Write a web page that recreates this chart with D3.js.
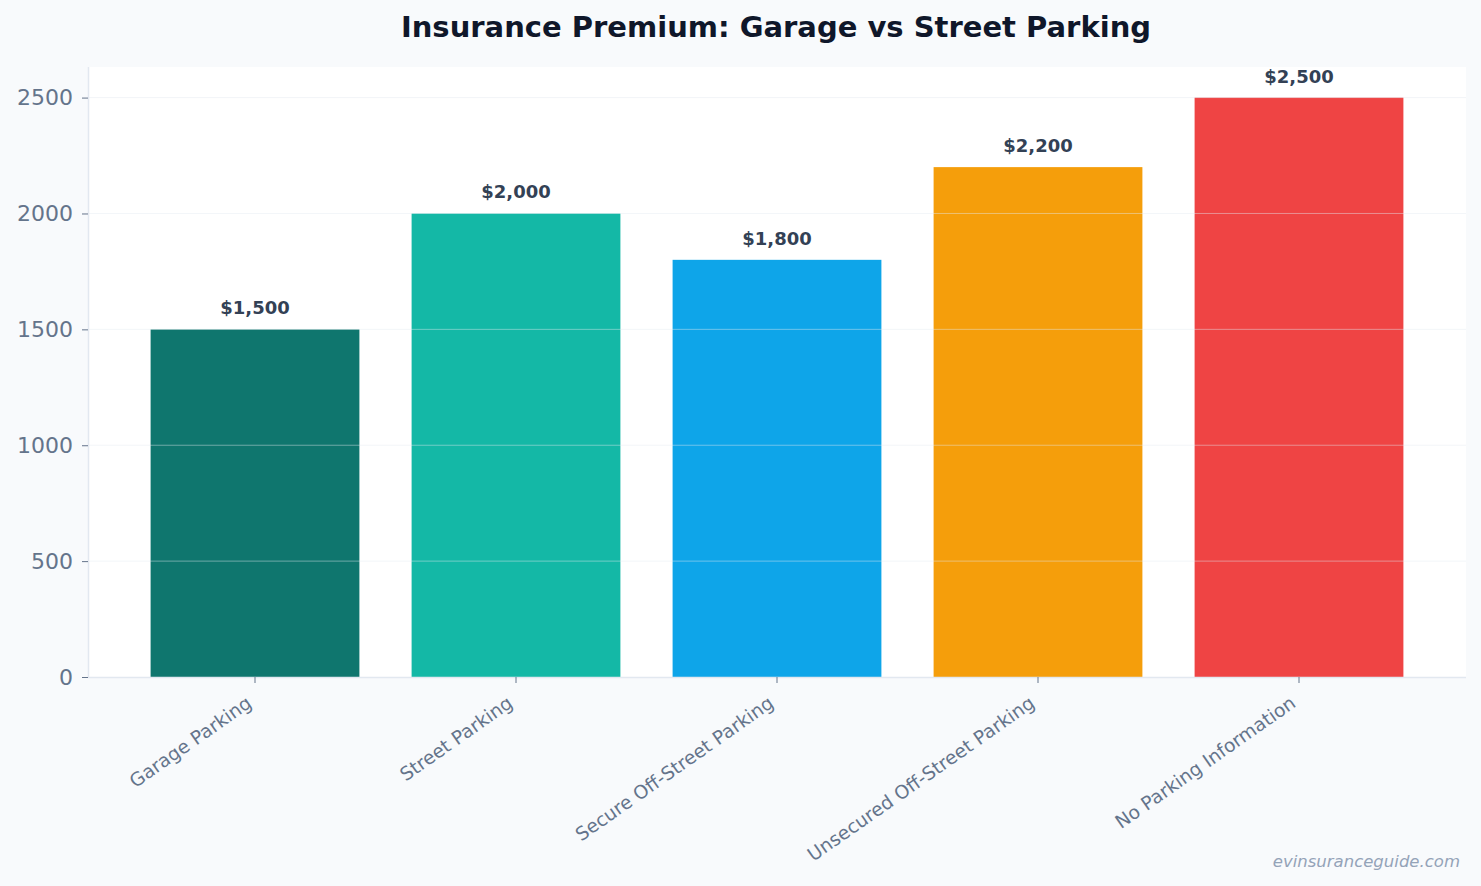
<!DOCTYPE html>
<html><head><meta charset="utf-8">
<script src="https://cdn.jsdelivr.net/npm/d3@7"></script>
<style>
html,body{margin:0;padding:0;background:#f8fafc;}
svg{display:block;font-family:"DejaVu Sans",sans-serif;}
</style></head>
<body>
<svg id="chart" width="1481" height="886"></svg>
<script>
const categories = ["Garage Parking","Street Parking","Secure Off-Street Parking","Unsecured Off-Street Parking","No Parking Information"];
const premiums = [1500, 2000, 1800, 2200, 2500];
const barColors = ["#0f766e","#14b8a6","#0ea5e9","#f59e0b","#ef4444"];
const yTicks = [0, 500, 1000, 1500, 2000, 2500];
const title = "Insurance Premium: Garage vs Street Parking";
const watermark = "evinsuranceguide.com";

const svg = d3.select("#chart");
const W = 1481, H = 886;
const plot = {left: 88, right: 1466, top: 67, bottom: 677};

svg.append("rect").attr("width", W).attr("height", H).attr("fill", "#f8fafc");
svg.append("rect").attr("x", plot.left).attr("y", plot.top)
  .attr("width", plot.right - plot.left).attr("height", plot.bottom - plot.top)
  .attr("fill", "#ffffff");

const x = d3.scaleBand().domain(categories).range([124.5, 1429.5])
  .paddingInner(0.2).paddingOuter(0.1);
const y = d3.scaleLinear().domain([0, 2632]).range([plot.bottom, plot.top]);

// bars
svg.append("g").selectAll("rect").data(categories).join("rect")
  .attr("x", d => x(d)).attr("width", x.bandwidth())
  .attr("y", (d,i) => y(premiums[i])).attr("height", (d,i) => y(0) - y(premiums[i]))
  .attr("fill", (d,i) => barColors[i]);

// grid over bars
svg.append("g").selectAll("line").data(yTicks.filter(t => t > 0)).join("line")
  .attr("x1", plot.left).attr("x2", plot.right)
  .attr("y1", d => y(d)).attr("y2", d => y(d))
  .attr("stroke", "#e2e8f0").attr("stroke-opacity", 0.45).attr("stroke-width", 1);

// value labels
svg.append("g").selectAll("text").data(categories).join("text")
  .attr("x", d => x(d) + x.bandwidth()/2)
  .attr("y", (d,i) => y(premiums[i]) - 15)
  .attr("text-anchor", "middle")
  .attr("font-size", 18).attr("font-weight", "bold").attr("fill", "#334155")
  .text((d,i) => "$" + d3.format(",")(premiums[i]));

// y axis
const yAxis = svg.append("g").attr("transform", `translate(${plot.left},0)`)
  .call(d3.axisLeft(y).tickValues(yTicks).tickSize(6).tickPadding(9).tickFormat(d3.format("d")));
yAxis.select(".domain").attr("stroke", "#e2e8f0").attr("stroke-width", 1.5)
  .attr("d", `M0.5,${plot.top}V${plot.bottom}`);
yAxis.selectAll(".tick line").attr("stroke", "#64748b");
yAxis.selectAll(".tick text").attr("fill", "#64748b").attr("font-size", 22)
  .attr("font-family", "DejaVu Sans");

// x axis
const xAxis = svg.append("g").attr("transform", `translate(0,${plot.bottom})`)
  .call(d3.axisBottom(x).tickSize(6).tickFormat(""));
xAxis.select(".domain").attr("stroke", "#e2e8f0").attr("stroke-width", 1.5)
  .attr("d", `M${plot.left},0.5H${plot.right}`);
xAxis.selectAll(".tick line").attr("stroke", "#64748b");
xAxis.selectAll(".tick").append("text")
  .attr("transform", "translate(-2,29) rotate(-35)")
  .attr("text-anchor", "end")
  .attr("fill", "#64748b").attr("font-size", 18.7)
  .attr("font-family", "DejaVu Sans")
  .text(d => d);

// title
svg.append("text").attr("x", 776).attr("y", 37).attr("text-anchor", "middle")
  .attr("font-size", 29).attr("font-weight", "bold").attr("fill", "#0f172a")
  .text(title);

// watermark
svg.append("text").attr("x", 1460).attr("y", 867).attr("text-anchor", "end")
  .attr("font-size", 16.5).attr("font-style", "italic").attr("fill", "#94a3b8")
  .text(watermark);
</script>
</body></html>
